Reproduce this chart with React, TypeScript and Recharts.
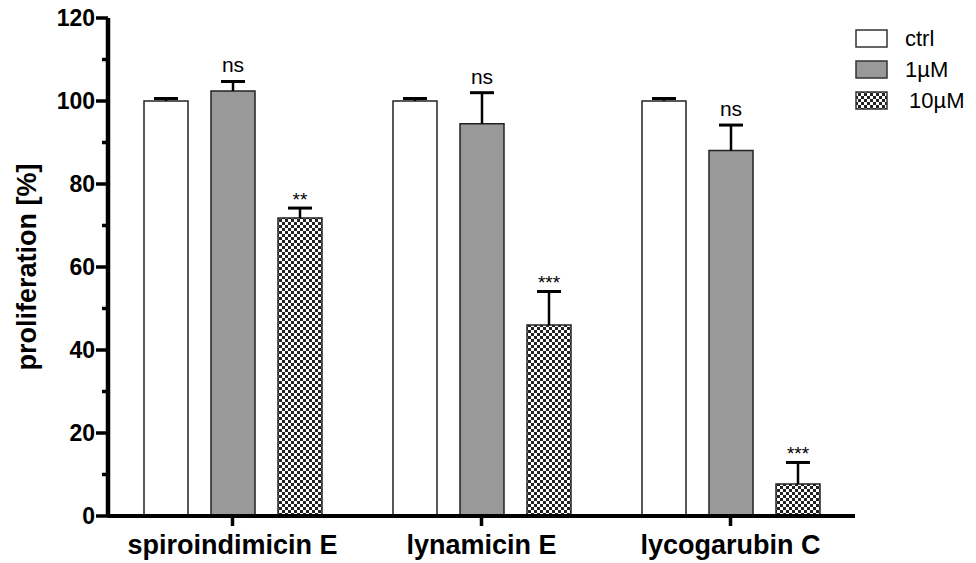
import React from 'react';
import { BarChart, Bar, XAxis, YAxis, LabelList, Legend } from 'recharts';

// values
const categories = ['spiroindimicin E', 'lynamicin E', 'lycogarubin C'];
const seriesNames = ['ctrl', '1µM', '10µM'];
const ctrl = [100, 100, 100];
const ctrlErr = [0.6, 0.6, 0.6];
const oneUM = [102.4, 94.5, 88.1];
const oneUMErr = [2.3, 7.5, 6.1];
const tenUM = [71.8, 46, 7.7];
const tenUMErr = [2.4, 8.1, 5.2];
const ctrlSig = ['', '', ''];
const oneUMSig = ['ns', 'ns', 'ns'];
const tenUMSig = ['**', '***', '***'];
const yTicks = [0, 10, 20, 30, 40, 50, 60, 70, 80, 90, 100, 110, 120];

const data = categories.map((name, i) => ({
  name,
  ctrl: ctrl[i],
  one: oneUM[i],
  ten: tenUM[i],
}));

const FONT = '"Liberation Sans", Arial, sans-serif';

const YTick = (props: any) => {
  const { x, y, payload } = props;
  const major = payload.value % 20 === 0;
  return (
    <g>
      <line x1={major ? x + 1 : x + 7} x2={x + 13} y1={y} y2={y} stroke="#000" strokeWidth={3.5} />
      {major && (
        <text x={x} y={y} dy={8} textAnchor="end" fontFamily={FONT} fontWeight="bold" fontSize={23} fill="#000" stroke="none">
          {payload.value}
        </text>
      )}
    </g>
  );
};

// upward-only whisker + significance mark, scaled from the bar's own pixel height
const whisker = (vals: number[], errs: number[], sig: string[]) => (props: any) => {
  const vb = props.viewBox || props;
  const i = props.index;
  const x = vb.x + vb.width / 2;
  const k = vb.height / vals[i];
  const capY = vb.y - errs[i] * k;
  const text = sig[i];
  const stars = text.startsWith('*');
  return (
    <g>
      <line x1={x} x2={x} y1={vb.y} y2={capY} stroke="#000" strokeWidth={2.5} />
      <line x1={x - 12} x2={x + 12} y1={capY} y2={capY} stroke="#000" strokeWidth={3} />
      {text && (
        <text
          x={x}
          y={stars ? capY - 2 : capY - 9}
          textAnchor="middle"
          fontFamily={FONT}
          fontSize={stars ? 19 : 21}
          fill="#000"
        >
          {text}
        </text>
      )}
    </g>
  );
};

const LegendBox = () => {
  const fills = ['#fff', '#999', 'url(#checker)'];
  return (
    <svg width={120} height={100} style={{ display: 'block' }}>
      {seriesNames.map((n, i) => (
        <g key={n}>
          <rect x={1} y={6 + i * 31} width={31} height={17} fill={fills[i]} stroke="#333" strokeWidth={1.5} />
          <text x={i === 2 ? 54 : 50} y={22 + i * 31} fontFamily={FONT} fontSize={22} fill="#000">
            {n}
          </text>
        </g>
      ))}
    </svg>
  );
};

export default function App() {
  return (
    <div style={{ position: 'absolute', left: 0, top: 0, background: '#fff' }}>
      <BarChart
        width={976}
        height={563}
        data={data}
        margin={{ top: 18, right: 121, bottom: 0, left: 0 }}
        barSize={44}
        barGap={23}
      >
        <defs>
          <pattern id="checker" width={6} height={6} patternUnits="userSpaceOnUse">
            <rect width={6} height={6} fill="#fff" />
            <rect width={3} height={3} fill="#222" />
            <rect x={3} y={3} width={3} height={3} fill="#222" />
          </pattern>
        </defs>
        <XAxis
          dataKey="name"
          height={47}
          tickSize={10}
          tickMargin={9}
          stroke="#000"
          strokeWidth={4}
          axisLine={{ stroke: '#000', strokeWidth: 4 }}
          tickLine={{ stroke: '#000', strokeWidth: 3.5 }}
          tick={{ fill: '#000', stroke: 'none', fontFamily: FONT, fontWeight: 'bold', fontSize: 27 }}
        />
        <YAxis
          width={108}
          domain={[0, 120]}
          ticks={yTicks}
          interval={0}
          tickSize={10}
          tickMargin={3}
          tickLine={false}
          stroke="#000"
          strokeWidth={4.5}
          axisLine={{ stroke: '#000', strokeWidth: 4.5 }}
          tick={<YTick />}
          label={(p: any) => {
            const vb = p.viewBox;
            const cy = vb.y + vb.height / 2;
            return (
              <text
                x={36}
                y={cy}
                transform={`rotate(-90 36 ${cy})`}
                textAnchor="middle"
                fontFamily={FONT}
                fontWeight="bold"
                fontSize={27}
                fill="#000"
                stroke="none"
              >
                proliferation [%]
              </text>
            );
          }}
        />
        <Legend
          layout="horizontal"
          verticalAlign="middle"
          align="center"
          content={() => <LegendBox />}
          wrapperStyle={{ position: 'absolute', left: 855, top: 24, width: 120 }}
        />
        <Bar dataKey="ctrl" name="ctrl" fill="#fff" stroke="#222" strokeWidth={1.5} isAnimationActive={false}>
          <LabelList dataKey="ctrl" content={whisker(ctrl, ctrlErr, ctrlSig)} />
        </Bar>
        <Bar dataKey="one" name="1µM" fill="#999" stroke="#222" strokeWidth={1.5} isAnimationActive={false}>
          <LabelList dataKey="one" content={whisker(oneUM, oneUMErr, oneUMSig)} />
        </Bar>
        <Bar dataKey="ten" name="10µM" fill="url(#checker)" stroke="#222" strokeWidth={1.5} isAnimationActive={false}>
          <LabelList dataKey="ten" content={whisker(tenUM, tenUMErr, tenUMSig)} />
        </Bar>
      </BarChart>
    </div>
  );
}
